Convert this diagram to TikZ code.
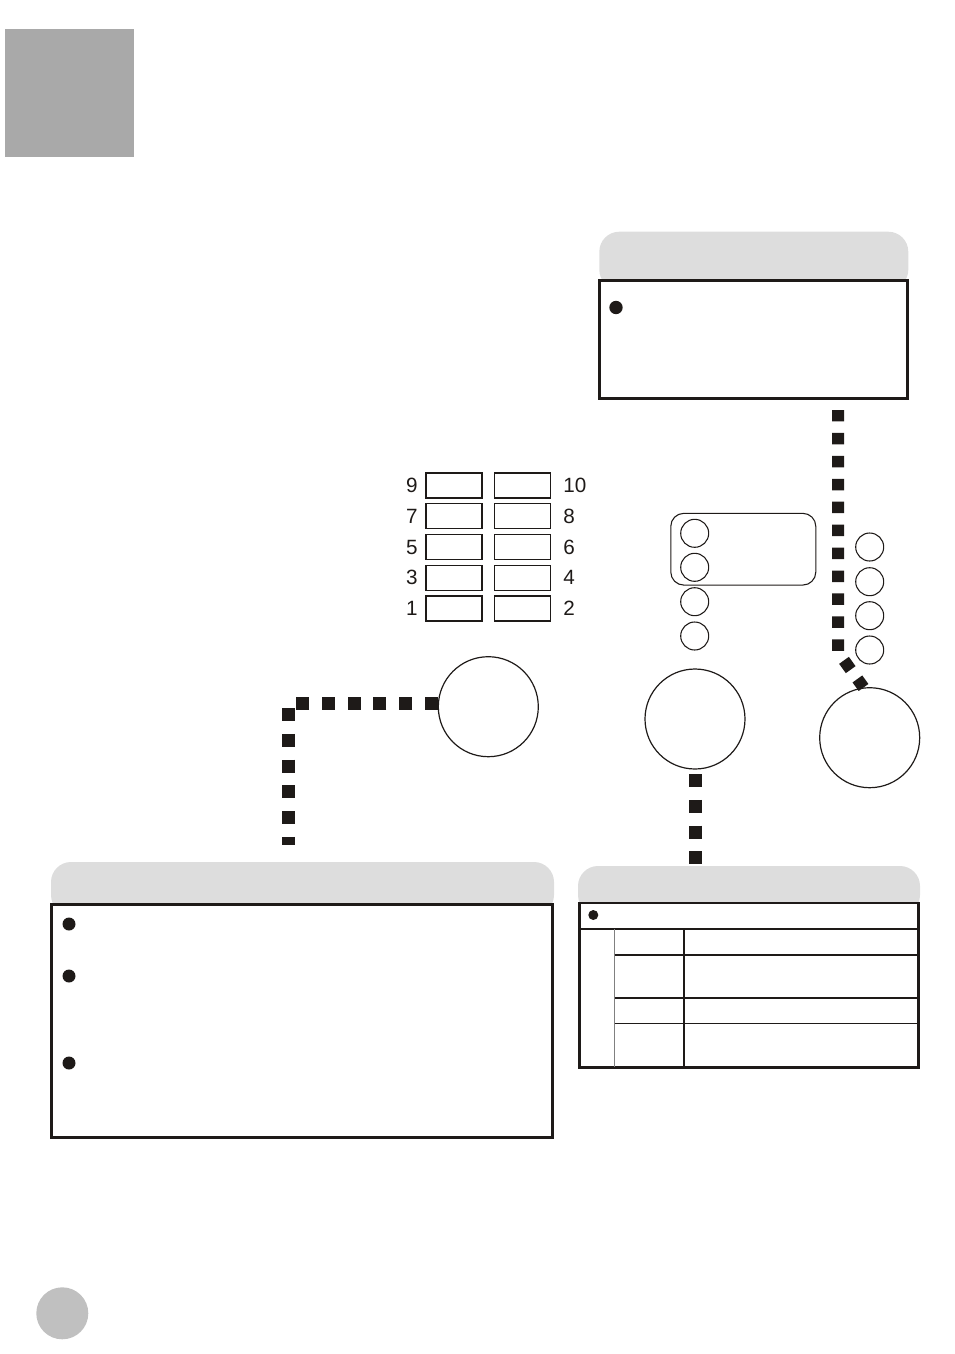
\documentclass[tikz,border=0pt]{standalone}
\usepackage{fontspec}
\setmainfont{Liberation Sans}
\usetikzlibrary{calc}
\definecolor{tabgray}{HTML}{DDDDDD}
\definecolor{sqgray}{HTML}{A9A9A9}
\definecolor{pagegray}{HTML}{C0C0C0}
\definecolor{ink}{HTML}{1E1A18}
\tikzstyle{tab}=[rectangle, rounded corners=15pt, fill=tabgray, inner sep=0pt]
\tikzstyle{panel}=[rectangle, draw=ink, line width=2.25pt, fill=white, inner sep=0pt]
\tikzstyle{bullet}=[circle, fill=ink, inner sep=0pt, minimum size=9.75pt]
\tikzstyle{key}=[rectangle, draw=ink, line width=0.9pt, inner sep=0pt, minimum width=42pt, minimum height=18.75pt]
\tikzstyle{num}=[inner sep=0pt, font=\fontsize{15.5}{18}\selectfont, text=ink]
\tikzstyle{led}=[circle, draw=ink, line width=0.8pt, inner sep=0pt, minimum size=21pt]
\tikzstyle{knob}=[circle, draw=ink, line width=0.9pt, inner sep=0pt, minimum size=75pt]
\tikzstyle{dots}=[draw=ink, line width=9.75pt, dash pattern=on 9.75pt off 9.55pt]
\tikzstyle{rule}=[draw=ink, line width=1.2pt]

\begin{document}
\begin{tikzpicture}[x=0.75pt, y=-0.75pt]
    \useasboundingbox (0,0) rectangle (954,1354);
    \node[rectangle, fill=sqgray, minimum width=96.75pt, minimum height=96pt, inner sep=0pt] (sq) at (69.5,93) {};
    \node[circle, fill=pagegray, minimum size=39pt, inner sep=0pt] (page) at (62.3,1313.3) {};

    \node[tab, minimum width=231.75pt, minimum height=43.5pt] (ttab) at (753.8,260.7) {};
    \node[panel, minimum width=231pt, minimum height=88.7pt] (tbox) at (753.8,339.2) {};
    \node[bullet, minimum size=10pt] (tb1) at (616,307.5) {};

    \node[tab, minimum width=377.25pt, minimum height=39.75pt] (ltab) at (302.5,888.5) {};
    \node[panel, minimum width=375.75pt, minimum height=174.75pt] (lbox) at (302,1021) {};
    \node[bullet] (lb1) at (69,924) {};
    \node[bullet] (lb2) at (69,976) {};
    \node[bullet] (lb3) at (69,1063) {};

    \node[tab, minimum width=256.5pt, minimum height=36.75pt] (rtab) at (749,890.5) {};
    \node[panel, line width=2pt, minimum width=254.25pt, minimum height=123.4pt] (rbox) at (749,985.2) {};
    \node[bullet, minimum size=7.5pt] (rb1) at (593.3,915) {};
    \draw[rule] (579,929) -- (919,929);
    \draw[draw=gray, line width=1.2pt] (614.5,929) -- (614.5,1067);
    \draw[rule] (684,929) -- (684,1067);
    \draw[rule] (614.5,955) -- (919,955);
    \draw[rule] (614.5,997.7) -- (919,997.7);
    \draw[rule] (614.5,1023.3) -- (919,1023.3);

    \node[key] (k9) at (454,485.5) {};
    \node[key] (k10) at (522.5,485.5) {};
    \node[key] (k7) at (454,516.25) {};
    \node[key] (k8) at (522.5,516.25) {};
    \node[key] (k5) at (454,547) {};
    \node[key] (k6) at (522.5,547) {};
    \node[key] (k3) at (454,577.75) {};
    \node[key] (k4) at (522.5,577.75) {};
    \node[key] (k1) at (454,608.5) {};
    \node[key] (k2) at (522.5,608.5) {};
    \node[num, anchor=east] (n9) at (418,485.5) {9};
    \node[num, anchor=west] (n10) at (563,485.5) {10};
    \node[num, anchor=east] (n7) at (418,516.25) {7};
    \node[num, anchor=west] (n8) at (563,516.25) {8};
    \node[num, anchor=east] (n5) at (418,547) {5};
    \node[num, anchor=west] (n6) at (563,547) {6};
    \node[num, anchor=east] (n3) at (418,577.75) {3};
    \node[num, anchor=west] (n4) at (563,577.75) {4};
    \node[num, anchor=east] (n1) at (418,608.5) {1};
    \node[num, anchor=west] (n2) at (563,608.5) {2};

    \node[rectangle, rounded corners=9.75pt, draw=ink, line width=0.8pt, minimum width=108.75pt, minimum height=53.8pt, inner sep=0pt] (grp) at (743.3,549.2) {};
    \node[led] (m1) at (694.7,533.3) {};
    \node[led] (m2) at (694.7,567.3) {};
    \node[led] (m3) at (694.7,601.7) {};
    \node[led] (m4) at (694.7,636) {};
    \node[led] (r1) at (869.7,547) {};
    \node[led] (r2) at (869.7,581.7) {};
    \node[led] (r3) at (869.7,615.7) {};
    \node[led] (r4) at (869.7,650) {};

    \node[knob] (lknob) at (488.3,706.7) {};
    \node[knob] (mknob) at (695,719) {};
    \node[knob] (rknob) at (869.7,737.7) {};

    \coordinate (lend) at (288.5,845);
    \coordinate (rtop) at (838,410);
    \coordinate (rbend) at (838,652);
    \draw[dots] (lknob.176) -| (lend);
    \draw[dots, dash phase=15.9pt] (mknob.south) -- (mknob.south |- rtab.north);
    \draw[dots, line width=9pt, dash pattern=on 8.6pt off 8.6pt] (rtop) -- (rbend) -- (rknob.97);
\end{tikzpicture}
\end{document}
